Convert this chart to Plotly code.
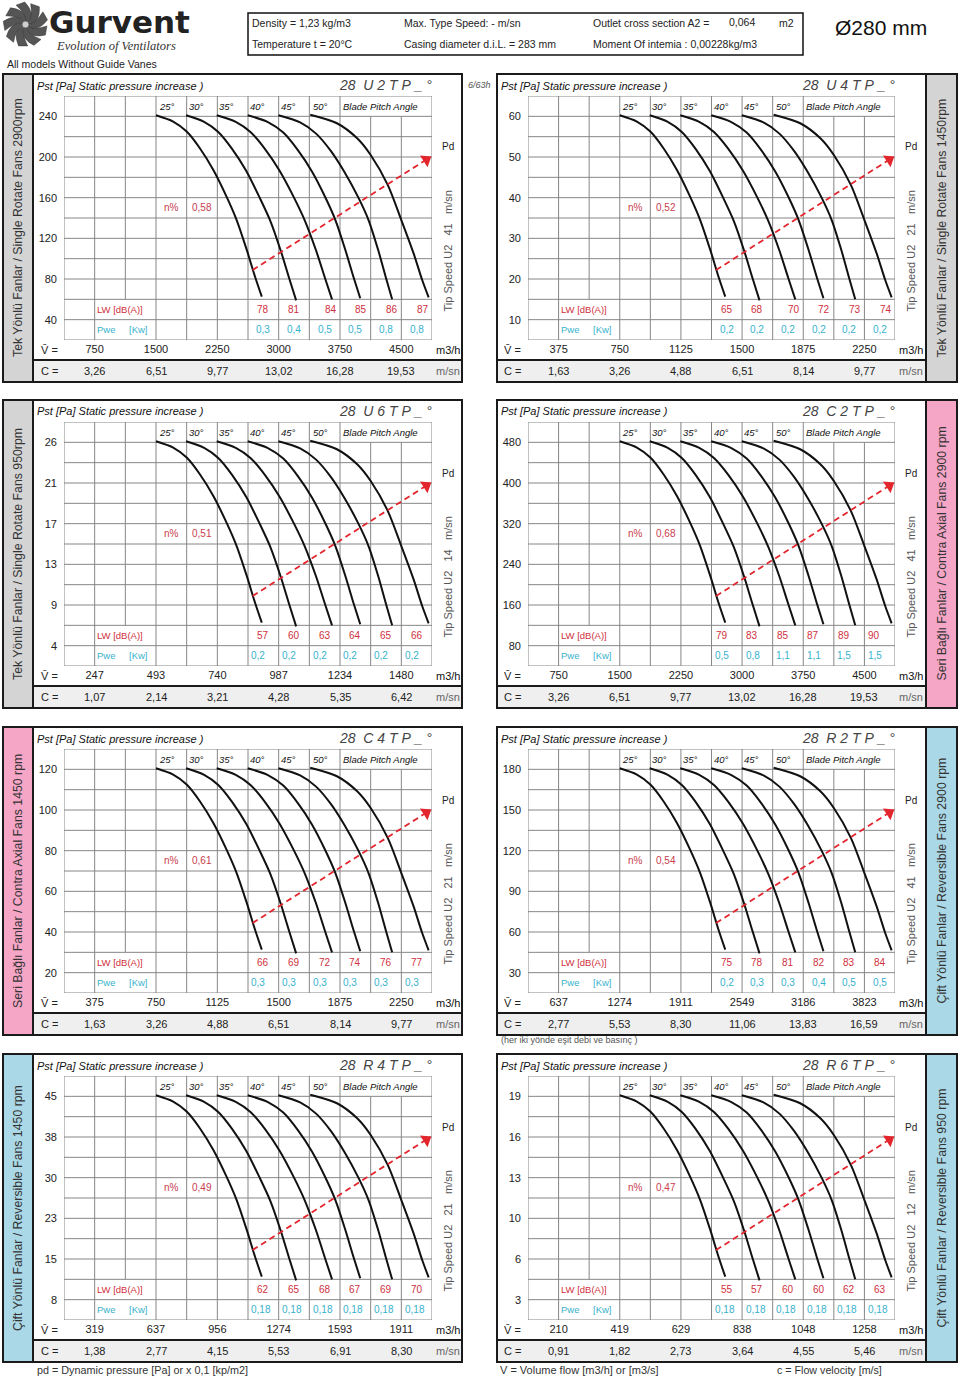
import math
import plotly.graph_objects as go

W, H = 960, 1379
FONT = "Liberation Sans, Arial, sans-serif"

# ---------------- data ----------------
ANGLES = ["25°", "30°", "35°", "40°", "45°", "50°"]

# Fan curves (column from left, row from top);
# the same curve family is printed in every panel.
C25_COL = [3.00, 3.56, 4.00, 4.43, 4.87, 5.30, 5.63, 5.96, 6.23, 6.45]
C25_ROW = [0.95, 1.26, 1.75, 2.57, 3.64, 4.95, 6.10, 7.57, 8.89, 9.87]
C30_COL = [3.98, 4.57, 5.03, 5.48, 5.94, 6.38, 6.73, 7.07, 7.34, 7.57]
C30_ROW = [0.95, 1.27, 1.77, 2.60, 3.68, 5.00, 6.15, 7.62, 8.95, 10.05]
C35_COL = [4.98, 5.60, 6.08, 6.55, 7.03, 7.50, 7.86, 8.22, 8.51, 8.74]
C35_ROW = [0.95, 1.27, 1.77, 2.60, 3.68, 5.00, 6.15, 7.60, 8.95, 10.00]
C40_COL = [5.99, 6.65, 7.15, 7.62, 8.08, 8.52, 8.85, 9.17, 9.44, 9.66]
C40_ROW = [0.95, 1.28, 1.80, 2.65, 3.70, 4.98, 6.10, 7.55, 8.90, 9.95]
C45_COL = [6.99, 7.70, 8.22, 8.70, 9.15, 9.60, 9.93, 10.24, 10.50, 10.70]
C45_ROW = [0.95, 1.30, 1.85, 2.70, 3.75, 5.00, 6.10, 7.55, 8.95, 10.00]
C50_COL = [8.03, 8.90, 9.56, 10.00, 10.56, 11.00, 11.40, 11.68, 11.89]
C50_ROW = [0.92, 1.34, 2.08, 2.90, 4.38, 6.10, 7.74, 9.05, 9.90]

# Dynamic pressure (Pd) arrow on the same grid
PD_COL = [6.15, 11.95]
PD_ROW = [8.56, 3.00]

MODELS = ["28  U 2 T P _ °", "28  U 4 T P _ °", "28  U 6 T P _ °", "28  C 2 T P _ °",
          "28  C 4 T P _ °", "28  R 2 T P _ °", "28  R 4 T P _ °", "28  R 6 T P _ °"]
SIDE_TEXT = ["Tek Yönlü Fanlar / Single Rotate Fans 2900rpm",
             "Tek Yönlü Fanlar / Single Rotate Fans 1450rpm",
             "Tek Yönlü Fanlar / Single Rotate Fans 950rpm",
             "Seri Bağlı Fanlar / Contra Axial Fans 2900 rpm",
             "Seri Bağlı Fanlar / Contra Axial Fans 1450 rpm",
             "Çift Yönlü Fanlar / Reversible Fans 2900 rpm",
             "Çift Yönlü Fanlar / Reversible Fans 1450 rpm",
             "Çift Yönlü Fanlar / Reversible Fans 950 rpm"]

U2_PST = [240, 200, 160, 120, 80, 40]
U2_FLOW = [750, 1500, 2250, 3000, 3750, 4500]
U2_C = [3.26, 6.51, 9.77, 13.02, 16.28, 19.53]
U2_LW = [78, 81, 84, 85, 86, 87]
U2_PWE = [0.3, 0.4, 0.5, 0.5, 0.8, 0.8]
U2_ETA, U2_TIP = 0.58, 41

U4_PST = [60, 50, 40, 30, 20, 10]
U4_FLOW = [375, 750, 1125, 1500, 1875, 2250]
U4_C = [1.63, 3.26, 4.88, 6.51, 8.14, 9.77]
U4_LW = [65, 68, 70, 72, 73, 74]
U4_PWE = [0.2, 0.2, 0.2, 0.2, 0.2, 0.2]
U4_ETA, U4_TIP = 0.52, 21

U6_PST = [26, 21, 17, 13, 9, 4]
U6_FLOW = [247, 493, 740, 987, 1234, 1480]
U6_C = [1.07, 2.14, 3.21, 4.28, 5.35, 6.42]
U6_LW = [57, 60, 63, 64, 65, 66]
U6_PWE = [0.2, 0.2, 0.2, 0.2, 0.2, 0.2]
U6_ETA, U6_TIP = 0.51, 14

C2_PST = [480, 400, 320, 240, 160, 80]
C2_FLOW = [750, 1500, 2250, 3000, 3750, 4500]
C2_C = [3.26, 6.51, 9.77, 13.02, 16.28, 19.53]
C2_LW = [79, 83, 85, 87, 89, 90]
C2_PWE = [0.5, 0.8, 1.1, 1.1, 1.5, 1.5]
C2_ETA, C2_TIP = 0.68, 41

C4_PST = [120, 100, 80, 60, 40, 20]
C4_FLOW = [375, 750, 1125, 1500, 1875, 2250]
C4_C = [1.63, 3.26, 4.88, 6.51, 8.14, 9.77]
C4_LW = [66, 69, 72, 74, 76, 77]
C4_PWE = [0.3, 0.3, 0.3, 0.3, 0.3, 0.3]
C4_ETA, C4_TIP = 0.61, 21

R2_PST = [180, 150, 120, 90, 60, 30]
R2_FLOW = [637, 1274, 1911, 2549, 3186, 3823]
R2_C = [2.77, 5.53, 8.30, 11.06, 13.83, 16.59]
R2_LW = [75, 78, 81, 82, 83, 84]
R2_PWE = [0.2, 0.3, 0.3, 0.4, 0.5, 0.5]
R2_ETA, R2_TIP = 0.54, 41

R4_PST = [45, 38, 30, 23, 15, 8]
R4_FLOW = [319, 637, 956, 1274, 1593, 1911]
R4_C = [1.38, 2.77, 4.15, 5.53, 6.91, 8.30]
R4_LW = [62, 65, 68, 67, 69, 70]
R4_PWE = [0.18, 0.18, 0.18, 0.18, 0.18, 0.18]
R4_ETA, R4_TIP = 0.49, 21

R6_PST = [19, 16, 13, 10, 6, 3]
R6_FLOW = [210, 419, 629, 838, 1048, 1258]
R6_C = [0.91, 1.82, 2.73, 3.64, 4.55, 5.46]
R6_LW = [55, 57, 60, 60, 62, 63]
R6_PWE = [0.18, 0.18, 0.18, 0.18, 0.18, 0.18]
R6_ETA, R6_TIP = 0.47, 12

# ---------------- assemble ----------------
CURVES = [(C25_COL, C25_ROW), (C30_COL, C30_ROW), (C35_COL, C35_ROW),
          (C40_COL, C40_ROW), (C45_COL, C45_ROW), (C50_COL, C50_ROW)]
PANELS = [
    (U2_PST, U2_FLOW, U2_C, U2_LW, U2_PWE, U2_ETA, U2_TIP),
    (U4_PST, U4_FLOW, U4_C, U4_LW, U4_PWE, U4_ETA, U4_TIP),
    (U6_PST, U6_FLOW, U6_C, U6_LW, U6_PWE, U6_ETA, U6_TIP),
    (C2_PST, C2_FLOW, C2_C, C2_LW, C2_PWE, C2_ETA, C2_TIP),
    (C4_PST, C4_FLOW, C4_C, C4_LW, C4_PWE, C4_ETA, C4_TIP),
    (R2_PST, R2_FLOW, R2_C, R2_LW, R2_PWE, R2_ETA, R2_TIP),
    (R4_PST, R4_FLOW, R4_C, R4_LW, R4_PWE, R4_ETA, R4_TIP),
    (R6_PST, R6_FLOW, R6_C, R6_LW, R6_PWE, R6_ETA, R6_TIP),
]

# styling
GRAY_STRIP, PINK_STRIP, BLUE_STRIP = "#d4d4d4", "#f5a6c6", "#aad8e6"
STRIP_COLORS = [GRAY_STRIP, GRAY_STRIP, GRAY_STRIP, PINK_STRIP, PINK_STRIP,
                BLUE_STRIP, BLUE_STRIP, BLUE_STRIP]
LW_ALIGN = [list("ccrrrr"), list("ccrrrr"), list("cccccc"), list("llllll"),
            list("cccccc"), list("cccccc"), list("cccccc"), list("cccccc")]
PWE_ALIGN = ["c", "c", "l", "l", "l", "c", "l", "l"]
RED = "#e3262e"
LWRED = "#cf3040"
CYAN = "#38b2cc"
ETARED = "#c8404e"
ARROW_ANGLE = 57  # marker rotation of the Pd arrow head (degrees, clockwise)
ROW_T = [74, 400, 727, 1054]

fig = go.Figure()
shapes, anns = [], []


def X(p):
    return p / W


def Y(p):
    return 1 - p / H


def text(t, x, y, size=11, color="#222", xanchor="center", yanchor="middle",
         xref="paper", yref="paper", italic=False, bold=False, angle=0, family=FONT):
    if xref == "paper":
        x = X(x)
    if yref == "paper":
        y = Y(y)
    anns.append(dict(text=t, x=x, y=y, xref=xref, yref=yref, xanchor=xanchor,
                     yanchor=yanchor, showarrow=False, textangle=angle, borderpad=0,
                     font=dict(size=size, color=color, family=family,
                               style="italic" if italic else "normal",
                               weight="bold" if bold else "normal")))


def rect(x0, y0, x1, y1, fill=None, line=None, width=0, layer="below"):
    shapes.append(dict(type="rect", xref="paper", yref="paper", x0=X(x0), x1=X(x1),
                       y0=Y(y1), y1=Y(y0), fillcolor=fill or "rgba(0,0,0,0)",
                       line=dict(color=line or "rgba(0,0,0,0)", width=width), layer=layer))


def seg(x0, y0, x1, y1, color="#1a1a1a", width=2, layer="above"):
    shapes.append(dict(type="line", xref="paper", yref="paper", x0=X(x0), x1=X(x1),
                       y0=Y(y0), y1=Y(y1), line=dict(color=color, width=width), layer=layer))


def fmt(v, nd=None):
    s = f"{v:.{nd}f}" if nd is not None else f"{v:g}"
    return s.replace(".", ",")


def nb(s):
    return s.replace(" ", "\u00a0")


layout_axes = {}
for i, (pst, flow, cvals, lw, pwe, eta, tip) in enumerate(PANELS):
    n = i + 1
    xa = "x" if n == 1 else f"x{n}"
    ya = "y" if n == 1 else f"y{n}"
    r, side = divmod(i, 2)
    T = ROW_T[r]
    if side == 0:
        box, main, strip, grid, lab_x, right_x = (3, 462), (33, 462), (3, 33), (64, 432), 49, 447.5
    else:
        box, main, strip, grid, lab_x, right_x = (497, 957), (497, 926), (926, 957), (528, 895), 512, 910.5
    gt, gb = T + 22, T + 266

    layout_axes["xaxis" if n == 1 else f"xaxis{n}"] = dict(
        domain=[X(grid[0]), X(grid[1])], range=[0, 12], anchor=ya,
        tickvals=[1, 3, 5, 7, 9, 11], ticktext=[str(v) for v in flow], ticks="",
        showgrid=False, zeroline=False, showline=False, fixedrange=True,
        tickfont=dict(size=11, color="#222", family=FONT), ticklabelstandoff=1)
    layout_axes["yaxis" if n == 1 else f"yaxis{n}"] = dict(
        domain=[Y(gb), Y(gt)], range=[12, 0], anchor=xa,
        tickvals=[1, 3, 5, 7, 9, 11], ticktext=[str(v) for v in pst], ticks="",
        showgrid=False, zeroline=False, showline=False, fixedrange=True,
        tickfont=dict(size=11, color="#222", family=FONT), ticklabelstandoff=6)

    # grid
    gx, gy = [], []
    for k in range(13):
        gx += [0, 12, None]
        gy += [k, k, None]
    for k in range(13):
        y0, y1 = 0, 12
        if k in (10, 11):
            y0 = 1
        if k == 2:
            y1 = 10
        gx += [k, k, None]
        gy += [y0, y1, None]
    fig.add_trace(go.Scatter(x=gx, y=gy, mode="lines", xaxis=xa, yaxis=ya,
                             line=dict(color="#868686", width=1), hoverinfo="skip"))
    for cols, rows in CURVES:
        fig.add_trace(go.Scatter(x=cols, y=rows, mode="lines", xaxis=xa, yaxis=ya,
                                 line=dict(color="#111", width=2, shape="spline", smoothing=0.8),
                                 hoverinfo="skip"))
    fig.add_trace(go.Scatter(x=PD_COL, y=PD_ROW, mode="lines", xaxis=xa, yaxis=ya,
                             line=dict(color=RED, width=1.8, dash="6px,4px"), hoverinfo="skip"))
    fig.add_trace(go.Scatter(x=PD_COL[-1:], y=PD_ROW[-1:], mode="markers", xaxis=xa, yaxis=ya,
                             cliponaxis=False,
                             marker=dict(symbol="triangle-up", size=12, color=RED,
                                         angle=ARROW_ANGLE, standoff=5, line=dict(width=0)),
                             hoverinfo="skip"))

    # panel frame
    rect(strip[0], T, strip[1], T + 308, fill=STRIP_COLORS[i])
    rect(main[0], T + 286, main[1], T + 308, fill="#efefef")
    rect(box[0], T, box[1], T + 308, line="#1a1a1a", width=2, layer="above")
    sx = strip[1] if side == 0 else strip[0]
    seg(sx, T, sx, T + 308)
    seg(main[0], T + 286, main[1], T + 286)

    # in-grid texts
    for a, (cols, rows) in zip(ANGLES, CURVES):
        text(a, cols[0] + 0.05, 0.5, size=9.5, xanchor="left", xref=xa, yref=ya, italic=True, color="#111")
    text("Blade Pitch Angle", 9.06, 0.5, size=9.5, xanchor="left", xref=xa, yref=ya, italic=True, color="#111")
    text("n%", 3.5, 5.5, size=10, color=ETARED, xref=xa, yref=ya)
    text(fmt(eta, 2), 4.5, 5.5, size=10, color=ETARED, xref=xa, yref=ya)
    text("LW [dB(A)]", 1.05, 10.5, size=9.5, color=LWRED, xanchor="left", xref=xa, yref=ya)
    text("Pwe", 1.05, 11.5, size=9.5, color=CYAN, xanchor="left", xref=xa, yref=ya)
    text("[Kw]", 2.08, 11.5, size=9.5, color=CYAN, xanchor="left", xref=xa, yref=ya)
    for k in range(6):
        col = 6 + k
        al = LW_ALIGN[i][k]
        xx, anc = {"c": (col + 0.5, "center"), "l": (col + 0.1, "left"), "r": (col + 0.92, "right")}[al]
        text(str(lw[k]), xx, 10.5, size=10, color=LWRED, xanchor=anc, xref=xa, yref=ya)
        al = PWE_ALIGN[i]
        xx, anc = {"c": (col + 0.5, "center"), "l": (col + 0.08, "left")}[al]
        text(fmt(pwe[k]), xx, 11.5, size=10, color=CYAN, xanchor=anc, xref=xa, yref=ya)
        text(fmt(cvals[k], 2), 2 * k + 1, T + 296.5, size=11, color="#222", xref=xa)

    # labels around the grid
    text("V\u0304 =", lab_x, T + 276, size=11)
    text("C =", lab_x, T + 297, size=11)
    text("m3/h", right_x, T + 276, size=11, color="#111")
    text("m/sn", right_x, T + 297, size=11, color="#666")
    text("Pd", right_x, T + 73, size=10, color="#222")
    text("Tip Speed U2", right_x, T + 204, size=11, color="#555", angle=-90)
    text(str(tip), right_x, T + 156, size=11, color="#555", angle=-90)
    text("m/sn", right_x, T + 128.5, size=11, color="#555", angle=-90)
    text("Pst [Pa] Static pressure increase )", main[0] + 3, T + 11.5, size=11,
         xanchor="left", italic=True, color="#111")
    text(nb(MODELS[i]), grid[1] + 1, T + 11, size=14, xanchor="right", italic=True, color="#444")
    text(SIDE_TEXT[i], (strip[0] + strip[1]) / 2, T + 154, size=12.3, color="#333", angle=-90)

# ---------------- header ----------------
rect(248, 13, 803, 55, line="#111", width=1.5, layer="above")
hdr = 10.5
text("Density = 1,23 kg/m3", 251, 23, size=hdr, xanchor="left")
text("Temperature t = 20°C", 251, 44, size=hdr, xanchor="left")
text("Max. Type Speed: - m/sn", 403, 23, size=hdr, xanchor="left")
text("Casing diameter d.i.L. = 283 mm", 403, 44, size=hdr, xanchor="left")
text("Outlet cross section A2 =", 592, 23, size=hdr, xanchor="left")
text("0,064", 728, 22, size=hdr, xanchor="left")
text("m2", 778, 23, size=hdr, xanchor="left")
text("Moment Of intemia : 0,00228kg/m3", 592, 44, size=hdr, xanchor="left")
text("Ø280 mm", 834, 28, size=21, xanchor="left", color="#111")
text("All models Without Guide Vanes", 6, 64, size=10.5, xanchor="left")
text("6/63h", 479, 85, size=9, italic=True, color="#555")
text("(her iki yönde eşit debi ve basınç )", 500, 1040, size=9, xanchor="left", color="#555")
text("pd = Dynamic pressure [Pa] or x 0,1 [kp/m2]", 36, 1370, size=10.8, xanchor="left", color="#333")
text("V = Volume flow [m3/h] or [m3/s]", 499, 1370, size=11, xanchor="left", color="#333")
text("c = Flow velocity [m/s]", 776, 1370, size=10.7, xanchor="left", color="#333")

# logo
text("Gurvent", 48, 22, size=31, xanchor="left", bold=True, color="#222",
     family="DejaVu Sans, Liberation Sans, sans-serif")
text("Evolution of Ventilators", 55, 45.5, size=12.5, xanchor="left", italic=True, color="#333",
     family="Liberation Serif, Times New Roman, serif")
cx, cy = 25.5, 24.5


def P(rad, deg):
    a = math.radians(deg)
    return X(cx + rad * math.cos(a)), Y(cy - rad * math.sin(a))


def fmtp(p):
    return f"{p[0]:.6f},{p[1]:.6f}"


for k in range(9):
    a = k * 40
    path = ("M " + fmtp(P(3, a)) + " Q " + fmtp(P(15, a + 8)) + " " + fmtp(P(22.5, a + 52)) +
            " L " + fmtp(P(21.5, a + 76)) + " Q " + fmtp(P(11, a + 50)) + " " + fmtp(P(3, a + 32)) + " Z")
    shapes.append(dict(type="path", xref="paper", yref="paper", path=path,
                       fillcolor="#555555", line=dict(color="#333", width=0.5), layer="above"))
shapes.append(dict(type="circle", xref="paper", yref="paper", x0=X(cx - 3.5), x1=X(cx + 3.5),
                   y0=Y(cy + 3.5), y1=Y(cy - 3.5), fillcolor="#cfcfcf",
                   line=dict(color="#555", width=0.8), layer="above"))

fig.update_layout(width=W, height=H, margin=dict(l=0, r=0, t=0, b=0),
                  paper_bgcolor="white", plot_bgcolor="rgba(0,0,0,0)", showlegend=False,
                  font=dict(family=FONT), shapes=shapes, annotations=anns, **layout_axes)
fig.write_html("out.html", config={"displayModeBar": False},
               post_script="document.body.style.margin='0';document.body.style.padding='0';")
